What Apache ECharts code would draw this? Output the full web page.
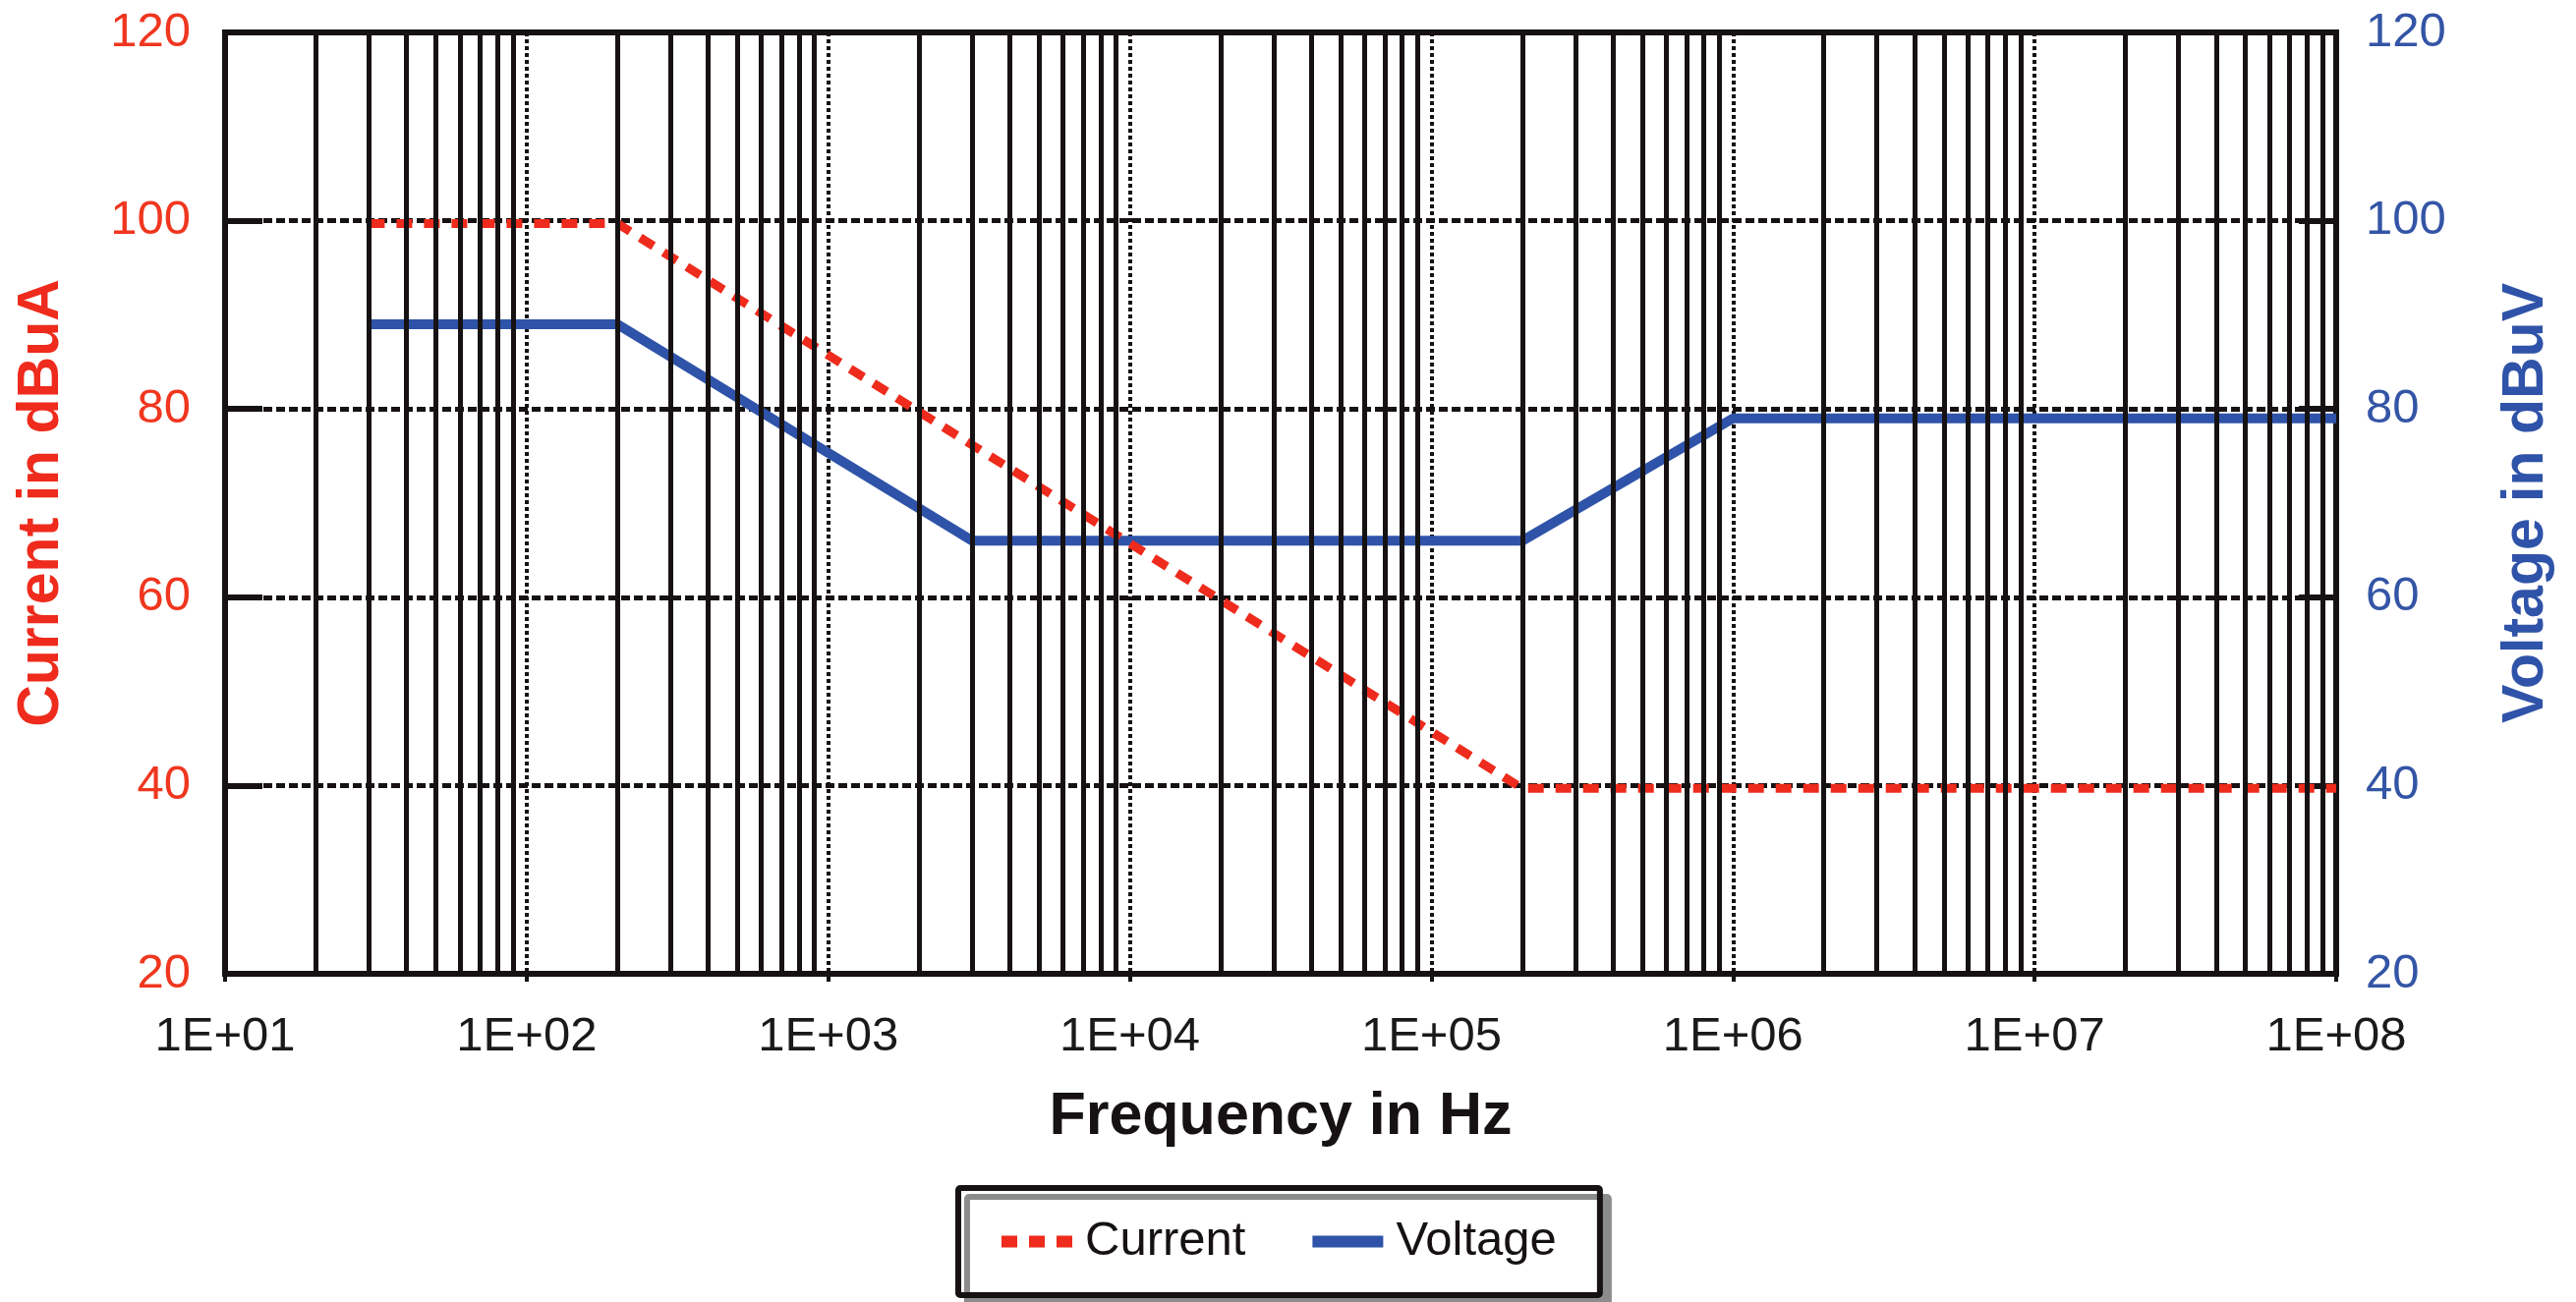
<!DOCTYPE html>
<html>
<head>
<meta charset="utf-8">
<script src="https://cdn.jsdelivr.net/npm/echarts@6/dist/echarts.min.js"></script>
<style>
html, body { margin: 0; padding: 0; background: #ffffff; }
#chart { width: 2621px; height: 1325px; }
</style>
</head>
<body>
<div id="chart"></div>
<script>
// Limit curves: frequency (Hz) breakpoints and levels
const currentFreq = [30, 200, 200000, 100000000];
const currentDb   = [99.7, 99.7, 39.7, 39.7];
const voltageFreq = [30, 200, 3000, 200000, 1000000, 100000000];
const voltageDb   = [89, 89, 66, 66, 79, 79];

// Axis ticks
const freqTickLabels = ['1E+01', '1E+02', '1E+03', '1E+04', '1E+05', '1E+06', '1E+07', '1E+08'];
const levelTicks = [20, 40, 60, 80, 100, 120];

// Intermediate log gridlines (2..9 within every decade)
const minorGridFreqs = [];
for (let e = 1; e < 8; e++) {
  for (let m = 2; m <= 9; m++) minorGridFreqs.push(m * Math.pow(10, e));
}

const RED = '#ee2b1c';
const BLUE = '#2f53a8';
const INK = '#161214';
const FONT = "'Liberation Sans', Arial, sans-serif";

const toPairs = (xs, ys) => xs.map((x, i) => [x, ys[i]]);

const chart = echarts.init(document.getElementById('chart'), null, { renderer: 'canvas' });

chart.setOption({
  animation: false,
  backgroundColor: '#ffffff',
  grid: {
    left: 229, right: 244, top: 33, bottom: 334,
    show: true, borderColor: INK, borderWidth: 6, backgroundColor: 'transparent'
  },
  legend: {
    data: ['Current', 'Voltage'],
    left: 975, top: 1209,
    orient: 'horizontal',
    itemWidth: 72, itemHeight: 14, itemGap: 62,
    padding: [30, 44, 30, 38],
    backgroundColor: '#ffffff',
    borderColor: INK, borderWidth: 6, borderRadius: 2,
    shadowColor: '#8c8c8c', shadowBlur: 0, shadowOffsetX: 9, shadowOffsetY: 9,
    textStyle: { fontFamily: FONT, fontSize: 49, color: INK, padding: [0, 0, 0, 8] },
    lineStyle: { width: 12 }
  },
  xAxis: {
    type: 'log', logBase: 10,
    min: 10, max: 100000000, splitNumber: 7,
    name: 'Frequency in Hz', nameLocation: 'middle', nameGap: 116,
    nameTextStyle: { fontFamily: FONT, fontSize: 61, fontWeight: 'bold', color: INK },
    axisLine: { show: true, lineStyle: { color: INK, width: 6 } },
    axisTick: { show: true, length: 8, lineStyle: { color: INK, width: 4 } },
    axisLabel: {
      fontFamily: FONT, fontSize: 49, color: '#1a1a1a', margin: 40,
      formatter: v => freqTickLabels[Math.round(Math.log10(v)) - 1]
    },
    splitLine: { show: true, lineStyle: { color: INK, width: 4, type: [4, 3] } },
    minorTick: { show: false }, minorSplitLine: { show: false }
  },
  yAxis: [
    {
      type: 'value', position: 'left',
      min: levelTicks[0], max: levelTicks[levelTicks.length - 1], interval: 20,
      name: 'Current in dBuA', nameLocation: 'middle', nameGap: 157,
      nameTextStyle: { fontFamily: FONT, fontSize: 59, fontWeight: 'bold', color: RED },
      axisLine: { show: true, lineStyle: { color: INK, width: 6 } },
      axisTick: { show: true, inside: true, length: 38, lineStyle: { color: INK, width: 6 } },
      axisLabel: { fontFamily: FONT, fontSize: 49, color: '#f0361f', margin: 35 },
      splitLine: { show: true, lineStyle: { color: INK, width: 5, type: [9, 4] } }
    },
    {
      type: 'value', position: 'right',
      min: levelTicks[0], max: levelTicks[levelTicks.length - 1], interval: 20,
      name: 'Voltage in dBuV', nameLocation: 'middle', nameGap: 164,
      nameTextStyle: { fontFamily: FONT, fontSize: 59, fontWeight: 'bold', color: BLUE },
      axisLine: { show: true, lineStyle: { color: INK, width: 6 } },
      axisTick: { show: true, inside: true, length: 38, lineStyle: { color: INK, width: 6 } },
      axisLabel: { fontFamily: FONT, fontSize: 49, color: '#3455a6', margin: 30 },
      splitLine: { show: false }
    }
  ],
  series: [
    {
      name: 'logGrid', type: 'line', data: [], z: 1, silent: true,
      markLine: {
        silent: true, animation: false, symbol: ['none', 'none'],
        label: { show: false },
        lineStyle: { color: INK, width: 5, type: 'solid' },
        data: minorGridFreqs.map(f => ({ xAxis: f }))
      }
    },
    {
      name: 'Current', type: 'line', yAxisIndex: 0, z: 4,
      data: toPairs(currentFreq, currentDb),
      symbol: 'none', showSymbol: false,
      lineStyle: { color: RED, width: 9, type: [16, 12], cap: 'butt' },
      itemStyle: { color: RED }
    },
    {
      name: 'Voltage', type: 'line', yAxisIndex: 1, z: 3,
      data: toPairs(voltageFreq, voltageDb),
      symbol: 'none', showSymbol: false,
      lineStyle: { color: BLUE, width: 10, type: 'solid' },
      itemStyle: { color: BLUE }
    }
  ]
});
</script>
</body>
</html>
